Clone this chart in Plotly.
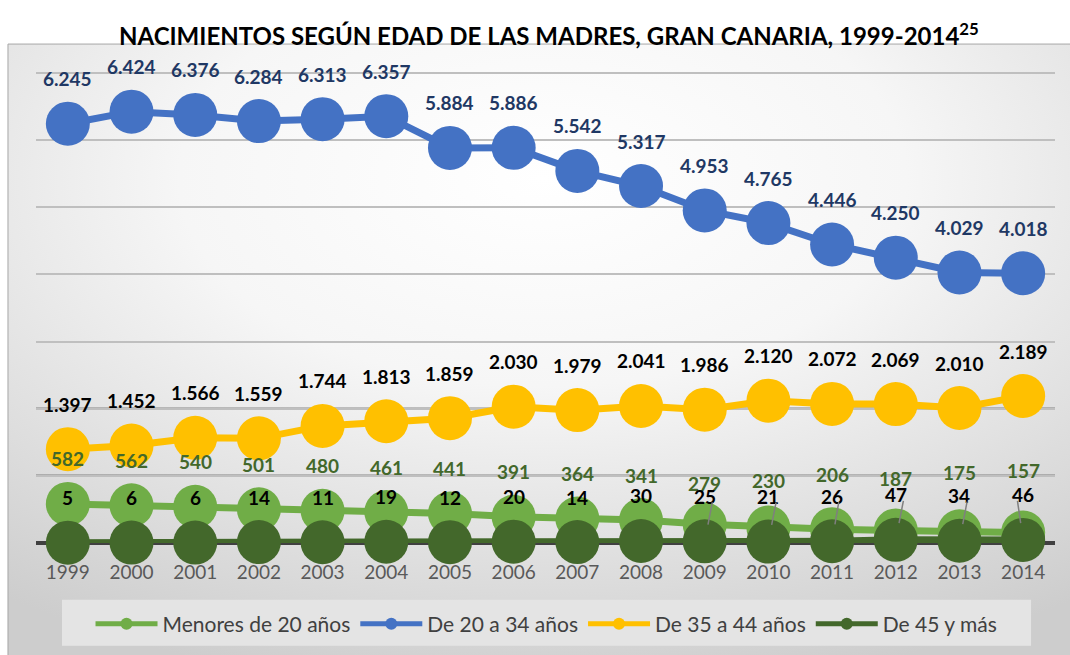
import base64
import plotly.graph_objects as go

# ---------------- data ----------------
years = list(range(1999, 2015))
menores_20 = [582, 562, 540, 501, 480, 461, 441, 391, 364, 341, 279, 230, 206, 187, 175, 157]
de_20_34 = [6245, 6424, 6376, 6284, 6313, 6357, 5884, 5886, 5542, 5317, 4953, 4765, 4446, 4250, 4029, 4018]
de_35_44 = [1397, 1452, 1566, 1559, 1744, 1813, 1859, 2030, 1979, 2041, 1986, 2120, 2072, 2069, 2010, 2189]
de_45_mas = [5, 6, 6, 14, 11, 19, 12, 20, 14, 30, 25, 21, 26, 47, 34, 46]
series_names = ["Menores de 20 años", "De 20 a 34 años", "De 35 a 44 años", "De 45 y más"]
title_text = "NACIMIENTOS SEGÚN EDAD DE LAS MADRES, GRAN CANARIA, 1999-2014<sup>25</sup>"

# ---------------- styles ----------------
FONT = "Lato"
colors = ["#70AD47", "#4472C4", "#FFC000", "#43682B"]
label_colors = ["#43682B", "#1F3864", "#000000", "#000000"]
# vertical lift (px) of each label above its point (Excel labels moved by hand)
menores_lift = [45] * 10 + [41, 47, 55, 52, 59, 62]
default_lift = 45
# leader lines for the last labels of "De 45 y más"
leader_from = 10
leader_dx = [8, 8, 7, 8, 8, -6]
dark_grid_values = [1000, 2000]
y_max = 7000


def fmt(v):
    return f"{v:,}".replace(",", ".")


fig = go.Figure()
all_series = [menores_20, de_20_34, de_35_44, de_45_mas]
for name, vals, col in zip(series_names, all_series, colors):
    fig.add_trace(go.Scatter(
        x=years, y=vals, name=name, mode="lines+markers",
        line=dict(color=col, width=7),
        marker=dict(color=col, size=44),
        cliponaxis=False,
        hoverinfo="skip",
    ))

annotations = []
for si, (vals, lc) in enumerate(zip(all_series, label_colors)):
    for i, (yr, v) in enumerate(zip(years, vals)):
        lift = menores_lift[i] if si == 0 else default_lift
        annotations.append(dict(
            x=yr, y=v, xref="x", yref="y", text=fmt(v), showarrow=False,
            yshift=lift, font=dict(family=FONT, size=19, color=lc, weight="bold"),
        ))
# leader lines
for k, i in enumerate(range(leader_from, len(years))):
    annotations.append(dict(
        x=years[i], y=de_45_mas[i], xref="x", yref="y", text=" ",
        showarrow=True, arrowhead=0, arrowwidth=1.5, arrowcolor="#7f7f7f",
        ax=leader_dx[k], ay=-41, standoff=17, font=dict(size=1),
    ))

svg = ('<svg xmlns="http://www.w3.org/2000/svg" width="1000" height="600" viewBox="0 0 1000 600" '
       'preserveAspectRatio="none"><defs><radialGradient id="g" cx="0.5" cy="0.22" r="0.85">'
       '<stop offset="0" stop-color="#ffffff"/><stop offset="0.4" stop-color="#f6f6f6"/>'
       '<stop offset="1" stop-color="#cdcdcd"/></radialGradient></defs>'
       '<rect width="1000" height="600" fill="url(#g)"/></svg>')
svg_uri = "data:image/svg+xml;base64," + base64.b64encode(svg.encode()).decode()

shapes = [
    dict(type="rect", xref="paper", yref="paper", x0=-0.0275, x1=1.05, y0=-0.30, y1=1.0616,
         line=dict(color="#a6a6a6", width=1), fillcolor="rgba(0,0,0,0)", layer="below"),
    # legend box
    dict(type="rect", xref="paper", yref="paper", x0=0.0255, x1=0.9765, y0=-0.2187, y1=-0.121,
         line=dict(width=0), fillcolor="#e4e4e4", layer="below"),
    # top gridline (plotly hides gridlines lying on the plot edge)
    dict(type="line", xref="paper", yref="paper", x0=0, x1=1, y0=1, y1=1,
         line=dict(color="#bfbfbf", width=2), layer="below"),
]
for gv in dark_grid_values:
    shapes.append(dict(type="line", xref="paper", yref="y", x0=0, x1=1, y0=gv, y1=gv,
                       line=dict(color="#262626", width=2), layer="below"))

fig.update_layout(
    width=1070, height=655,
    margin=dict(l=36, r=15, t=73, b=111),
    paper_bgcolor="white", plot_bgcolor="rgba(0,0,0,0)",
    title=dict(text=title_text, x=0.513, xref="container", xanchor="center",
               y=0.944, yref="container", yanchor="middle",
               font=dict(family=FONT, size=24, color="#000000", weight="bold")),
    showlegend=True,
    legend=dict(orientation="h", x=0.501, xanchor="center", y=-0.170, yanchor="middle",
                bgcolor="rgba(0,0,0,0)", font=dict(family=FONT, size=21, color="#404040"),
                itemsizing="constant", itemwidth=62, traceorder="normal"),
    xaxis=dict(range=[years[0] - 0.5, years[-1] + 0.5], tickmode="array", tickvals=years,
               ticktext=[str(y) for y in years], showgrid=False, showline=False,
               zeroline=False, ticks="outside", ticklen=12, tickcolor="rgba(0,0,0,0)",
               tickfont=dict(family=FONT, size=19, color="#595959"), fixedrange=True),
    yaxis=dict(range=[0, y_max], dtick=1000, showticklabels=False, showgrid=True,
               gridcolor="#bfbfbf", gridwidth=2, zeroline=True, zerolinecolor="#404040",
               zerolinewidth=4, showline=False, fixedrange=True),
    annotations=annotations,
    images=[dict(source=svg_uri, xref="paper", yref="paper", x=-0.0275, y=1.0616,
                 sizex=1.05, sizey=1.30, xanchor="left", yanchor="top",
                 sizing="stretch", layer="below")],
    shapes=shapes,
)

fig.write_html("out.html", config={"displayModeBar": False},
               post_script="document.body.style.margin='0';")
